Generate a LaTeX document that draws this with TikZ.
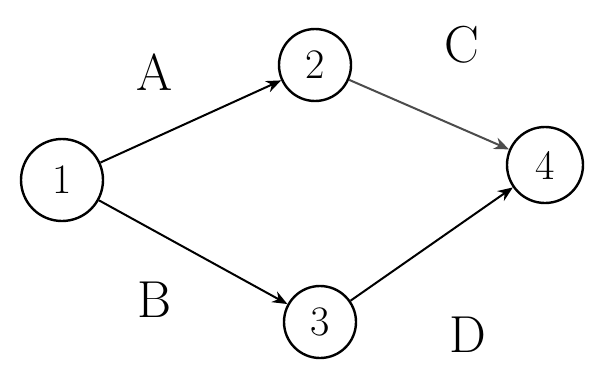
\documentclass[tikz,border=0pt]{standalone}
\usepackage{fontspec}
\usetikzlibrary{arrows.meta}
\begin{document}
\begin{tikzpicture}[x=1pt,y=-1pt,
  event/.style={draw,circle,line width=2.4pt,minimum size=72pt,inner sep=0pt,font=\fontsize{42}{44}\selectfont},
  act/.style={line width=2pt,-{Stealth[length=15pt,width=12pt]}},
  lab/.style={font=\fontsize{52}{54}\selectfont}]
\useasboundingbox (0,0) rectangle (593,369);
\node[event,minimum size=82pt] (n1) at (62,180) {1};
\node[event] (n2) at (315,65) {2};
\node[event,minimum size=76pt] (n4) at (545,165) {4};
\node[event] (n3) at (320,322) {3};
\draw[act] (n1) -- (n2);
\draw[act] (n1) -- (n3);
\draw[act,draw=black!70] (n2) -- (n4);
\draw[act] (n3) -- (n4);
\node[lab] (la) at (155,72) {A};
\node[lab] (lc) at (462,45) {C};
\node[lab] (lb) at (155,300) {B};
\node[lab] (ld) at (468,335) {D};
\end{tikzpicture}
\end{document}
